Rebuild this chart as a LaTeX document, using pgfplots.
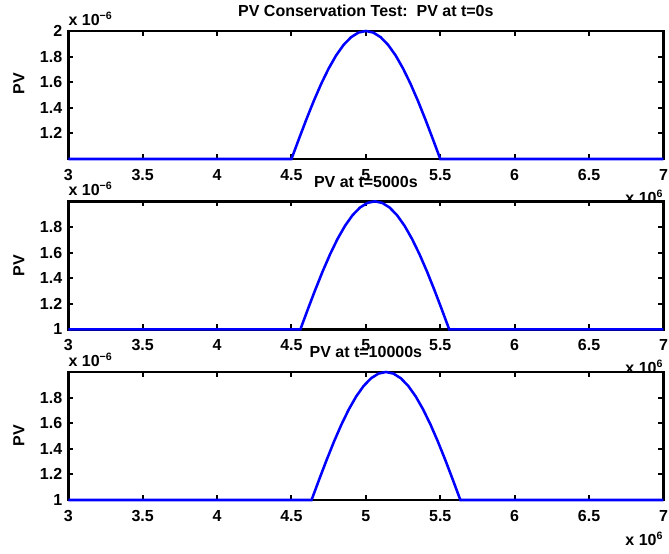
\documentclass[border=0pt]{standalone}
\usepackage{pgfplots}
\pgfplotsset{compat=1.18}
\usepackage{fontspec}
\setmainfont{Liberation Sans}

\newcommand{\lblfont}{\fontsize{12}{14}\selectfont\bfseries}

% Potential vorticity profile (x in units of 1e6, PV in units of 1e-6)
\pgfplotstableread{
x     pv
3.00  1.00000
4.50  1.00000
4.55  1.15643
4.60  1.30902
4.65  1.45399
4.70  1.58779
4.75  1.70711
4.80  1.80902
4.85  1.89101
4.90  1.95106
4.95  1.98769
5.00  2.00000
5.05  1.98769
5.10  1.95106
5.15  1.89101
5.20  1.80902
5.25  1.70711
5.30  1.58779
5.35  1.45399
5.40  1.30902
5.45  1.15643
5.50  1.00000
7.00  1.00000
}\pvzero

\pgfplotstableread{
x      pv
3.000  1.00000
4.560  1.00000
4.610  1.15643
4.660  1.30902
4.710  1.45399
4.760  1.58779
4.810  1.70711
4.860  1.80902
4.910  1.89101
4.960  1.95106
5.010  1.98769
5.060  2.00000
5.110  1.98769
5.160  1.95106
5.210  1.89101
5.260  1.80902
5.310  1.70711
5.360  1.58779
5.410  1.45399
5.460  1.30902
5.510  1.15643
5.560  1.00000
7.000  1.00000
}\pvfive

\pgfplotstableread{
x      pv
3.000  1.00000
4.635  1.00000
4.685  1.15643
4.735  1.30902
4.785  1.45399
4.835  1.58779
4.885  1.70711
4.935  1.80902
4.985  1.89101
5.035  1.95106
5.085  1.98769
5.135  2.00000
5.185  1.98769
5.235  1.95106
5.285  1.89101
5.335  1.80902
5.385  1.70711
5.435  1.58779
5.485  1.45399
5.535  1.30902
5.585  1.15643
5.635  1.00000
7.000  1.00000
}\pvten

\pgfplotsset{
  pvpanel/.style={
    scale only axis,
    width=446.4pt, height=96pt,
    xmin=3, xmax=7, ymin=1, ymax=2,
    xtick={3,3.5,4,4.5,5,5.5,6,6.5,7},
    clip=false,
    no markers,
    axis line style={line width=2pt},
    tick style={line width=1.5pt, black},
    major tick length=3.75pt,
    tick align=inside,
    /pgf/number format/assume math mode=true,
    ticklabel style={font=\lblfont},
    xticklabel style={yshift=-4pt},
    yticklabel style={xshift=-1pt},
    title style={font=\lblfont, at={(0.5,1)}, anchor=south, yshift=1pt},
    ylabel={PV},
    ylabel style={font=\lblfont, at={(axis description cs:-0.083,0.5)}, anchor=center},
    axis background/.style={fill=white},
    every axis plot/.append style={line width=1.9pt, color=blue},
  },
}

\begin{document}
\begin{tikzpicture}
\useasboundingbox (0,0) rectangle (501.75pt,415.5pt);

\begin{axis}[pvpanel,
  at={(51.2pt,296.25pt)}, anchor=south west,
  ytick={1.2,1.4,1.6,1.8,2},
  ylabel style={at={(axis description cs:-0.083,0.59)}},
  title={PV Conservation Test:\ \ PV at t=0s}]
\addplot table[x=x,y=pv] {\pvzero};
\node[anchor=south west, inner sep=0pt, font=\lblfont] at (rel axis cs:0,1) [yshift=4pt] {x 10\textsuperscript{−6}};
\node[anchor=north east, inner sep=0pt, font=\lblfont] at (rel axis cs:1,0) [yshift=-23pt] {x 10\textsuperscript{6}};
\end{axis}

\begin{axis}[pvpanel,
  at={(51.2pt,168.5pt)}, anchor=south west,
  ytick={1,1.2,1.4,1.6,1.8},
  title={PV at t=5000s}]
\addplot table[x=x,y=pv] {\pvfive};
\node[anchor=south west, inner sep=0pt, font=\lblfont] at (rel axis cs:0,1) [yshift=4pt] {x 10\textsuperscript{−6}};
\node[anchor=north east, inner sep=0pt, font=\lblfont] at (rel axis cs:1,0) [yshift=-23pt] {x 10\textsuperscript{6}};
\end{axis}

\begin{axis}[pvpanel,
  at={(51.2pt,40.5pt)}, anchor=south west,
  ytick={1,1.2,1.4,1.6,1.8},
  title={PV at t=10000s}]
\addplot table[x=x,y=pv] {\pvten};
\node[anchor=south west, inner sep=0pt, font=\lblfont] at (rel axis cs:0,1) [yshift=4pt] {x 10\textsuperscript{−6}};
\node[anchor=north east, inner sep=0pt, font=\lblfont] at (rel axis cs:1,0) [yshift=-24pt] {x 10\textsuperscript{6}};
\end{axis}
\end{tikzpicture}
\end{document}
